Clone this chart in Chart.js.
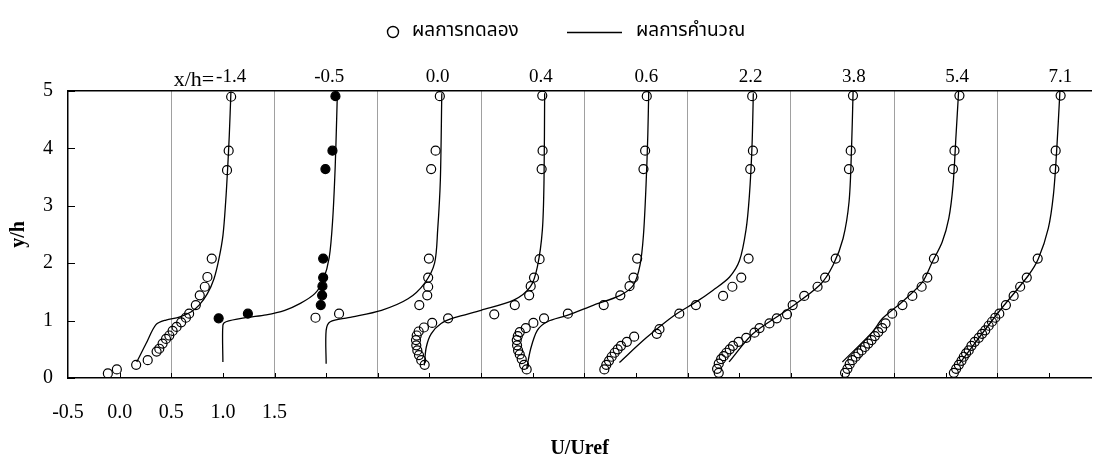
<!DOCTYPE html>
<html>
<head>
<meta charset="utf-8">
<script src="https://cdn.jsdelivr.net/npm/chart.js@4.4.0/dist/chart.umd.min.js"></script>
<style>
  html, body { margin: 0; padding: 0; background: #fff; }
  #wrap { width: 1097px; height: 468px; }
</style>
</head>
<body>
<div id="wrap"><canvas id="profiles"></canvas></div>
<script>
// Velocity profiles U/Uref vs y/h at each station x/h.
// Each profile is drawn shifted right by one unit per station.
const stations = ['-1.4', '-0.5', '0.0', '0.4', '0.6', '2.2', '3.8', '5.4', '7.1'];
const stationShift = [0, 1, 2, 3, 4, 5, 6, 7, 8];
const stationLabelAt = [1.08, 2.03, 3.08, 4.08, 5.10, 6.11, 7.11, 8.11, 9.11];
const xTickLabels = ['-0.5', '0.0', '0.5', '1.0', '1.5'];
const legendNames = ['ผลการทดลอง', 'ผลการคำนวณ'];

// experiment (circles)
const exp_m14_u = [1.08, 1.056, 1.04, 0.892, 0.85, 0.825, 0.776, 0.738, 0.673, 0.642, 0.596, 0.551, 0.513, 0.481, 0.449, 0.416, 0.384, 0.358, 0.272, 0.16, -0.027, -0.114];
const exp_m14_y = [4.90, 3.96, 3.62, 2.08, 1.76, 1.59, 1.44, 1.27, 1.12, 1.05, 0.97, 0.89, 0.82, 0.74, 0.68, 0.60, 0.51, 0.46, 0.31, 0.23, 0.15, 0.08];
const exp_m05_u = [-0.041, 0.242, 0.948, 0.961, 0.964, 0.971, 0.971, 0.993, 1.061, 1.09];
const exp_m05_y = [1.04, 1.12, 1.27, 1.44, 1.60, 1.75, 2.08, 3.64, 3.96, 4.91];
const exp_00_u = [-0.103, 0.125, 0.902, 0.979, 0.988, 0.988, 0.995, 1.017, 1.06, 1.101];
const exp_00_y = [1.05, 1.12, 1.27, 1.44, 1.59, 1.75, 2.08, 3.64, 3.96, 4.91];
const exp_04_u = [-0.046, -0.079, -0.101, -0.117, -0.127, -0.130, -0.123, -0.104, -0.053, 0.027, 0.181, 0.628, 0.827, 0.966, 0.981, 1.013, 1.067, 1.087, 1.096, 1.093];
const exp_04_y = [0.23, 0.31, 0.40, 0.48, 0.57, 0.66, 0.74, 0.81, 0.88, 0.96, 1.04, 1.11, 1.27, 1.44, 1.60, 1.75, 2.07, 3.64, 3.96, 4.92];
const exp_06_u = [-0.058, -0.083, -0.106, -0.125, -0.141, -0.151, -0.154, -0.144, -0.125, -0.067, 0.007, 0.11, 0.341, 0.688, 0.849, 0.938, 0.977, 1.012, 1.073, 1.089, 1.105];
const exp_06_y = [0.15, 0.23, 0.33, 0.41, 0.48, 0.57, 0.66, 0.73, 0.80, 0.87, 0.96, 1.04, 1.12, 1.27, 1.44, 1.60, 1.75, 2.08, 3.64, 3.96, 4.91];
const exp_22_u = [-0.306, -0.287, -0.261, -0.235, -0.206, -0.177, -0.145, -0.088, -0.017, 0.202, 0.228, 0.42, 0.581, 0.844, 0.934, 1.02, 1.091, 1.107, 1.133, 1.126];
const exp_22_y = [0.15, 0.23, 0.30, 0.37, 0.44, 0.50, 0.56, 0.63, 0.72, 0.77, 0.85, 1.12, 1.27, 1.43, 1.59, 1.75, 2.08, 3.64, 3.96, 4.91];
const exp_38_u = [-0.198, -0.214, -0.198, -0.175, -0.150, -0.124, -0.092, -0.060, -0.006, 0.068, 0.148, 0.197, 0.293, 0.364, 0.463, 0.518, 0.63, 0.759, 0.832, 0.935, 1.063, 1.08, 1.102];
const exp_38_y = [0.09, 0.16, 0.25, 0.33, 0.38, 0.44, 0.50, 0.56, 0.63, 0.70, 0.79, 0.87, 0.95, 1.04, 1.11, 1.27, 1.43, 1.59, 1.75, 2.08, 3.64, 3.96, 4.92];
const exp_54_u = [0.025, 0.048, 0.07, 0.096, 0.128, 0.154, 0.186, 0.218, 0.25, 0.282, 0.314, 0.347, 0.385, 0.417, 0.482, 0.581, 0.677, 0.767, 0.822, 0.886, 1.07, 1.085, 1.133];
const exp_54_y = [0.09, 0.16, 0.24, 0.31, 0.37, 0.43, 0.48, 0.54, 0.60, 0.66, 0.73, 0.80, 0.87, 0.95, 1.12, 1.27, 1.43, 1.59, 1.75, 2.08, 3.64, 3.96, 4.92];
const exp_71_u = [0.079, 0.101, 0.127, 0.153, 0.175, 0.197, 0.223, 0.249, 0.281, 0.32, 0.352, 0.383, 0.416, 0.448, 0.48, 0.519, 0.583, 0.658, 0.721, 0.785, 0.891, 1.052, 1.065, 1.113];
const exp_71_y = [0.09, 0.16, 0.23, 0.30, 0.37, 0.43, 0.48, 0.56, 0.63, 0.70, 0.77, 0.83, 0.91, 0.98, 1.05, 1.12, 1.27, 1.43, 1.59, 1.75, 2.08, 3.64, 3.96, 4.92];

// computation (lines)
const cfd_m14_u = [0.166, 0.256, 0.352, 0.449, 0.577, 0.69, 0.77, 0.85, 0.914, 0.962, 1.001, 1.027, 1.046, 1.062, 1.078];
const cfd_m14_y = [0.28, 0.60, 0.93, 1.01, 1.06, 1.15, 1.27, 1.47, 1.73, 2.08, 2.49, 3.07, 3.65, 4.23, 4.99];
const cfd_m05_u = [0, 0, 0.03, 0.22, 0.42, 0.6, 0.75, 0.89, 0.97, 1.03, 1.064, 1.087, 1.102, 1.109];
const cfd_m05_y = [0.28, 0.92, 0.98, 1.05, 1.10, 1.18, 1.30, 1.47, 1.70, 2.1, 2.78, 3.65, 4.52, 4.99];
const cfd_00_u = [0, 0, 0.04, 0.215, 0.536, 0.793, 0.953, 1.05, 1.08, 1.106, 1.12];
const cfd_00_y = [0.25, 0.83, 0.98, 1.05, 1.18, 1.38, 1.65, 2.0, 2.58, 3.45, 4.96];
const cfd_04_u = [-0.05, -0.03, 0.017, 0.113, 0.243, 0.50, 0.821, 0.978, 1.046, 1.094, 1.11, 1.116];
const cfd_04_y = [0.22, 0.54, 0.77, 0.95, 1.05, 1.18, 1.36, 1.59, 1.94, 2.58, 3.45, 4.96];
const cfd_06_u = [-0.058, -0.019, 0.045, 0.142, 0.334, 0.591, 0.848, 0.976, 1.04, 1.073, 1.098, 1.115, 1.124];
const cfd_06_y = [0.16, 0.51, 0.83, 0.98, 1.09, 1.27, 1.44, 1.62, 1.97, 2.49, 3.36, 4.23, 4.99];
const cfd_22_u = [-0.16, 0.10, 0.37, 0.587, 0.747, 0.907, 1.004, 1.066, 1.098, 1.124, 1.137];
const cfd_22_y = [0.27, 0.70, 1.09, 1.33, 1.53, 1.76, 2.05, 2.58, 3.16, 4.03, 4.96];
const cfd_38_u = [-0.098, 0.133, 0.46, 0.781, 0.91, 1.006, 1.064, 1.087, 1.103];
const cfd_38_y = [0.28, 0.77, 1.18, 1.62, 1.97, 2.43, 3.07, 3.94, 4.99];
const cfd_54_u = [0, 0.289, 0.389, 0.581, 0.774, 0.87, 0.966, 1.03, 1.071, 1.10, 1.125];
const cfd_54_y = [0.28, 0.80, 1.04, 1.33, 1.67, 2.02, 2.37, 2.78, 3.36, 4.23, 4.99];
const cfd_71_u = [0.133, 0.513, 0.802, 0.898, 0.994, 1.043, 1.074, 1.106];
const cfd_71_y = [0.25, 1.15, 1.79, 2.08, 2.61, 3.19, 3.94, 4.99];

const expU = [exp_m14_u, exp_m05_u, exp_00_u, exp_04_u, exp_06_u, exp_22_u, exp_38_u, exp_54_u, exp_71_u];
const expY = [exp_m14_y, exp_m05_y, exp_00_y, exp_04_y, exp_06_y, exp_22_y, exp_38_y, exp_54_y, exp_71_y];
const cfdU = [cfd_m14_u, cfd_m05_u, cfd_00_u, cfd_04_u, cfd_06_u, cfd_22_u, cfd_38_u, cfd_54_u, cfd_71_u];
const cfdY = [cfd_m14_y, cfd_m05_y, cfd_00_y, cfd_04_y, cfd_06_y, cfd_22_y, cfd_38_y, cfd_54_y, cfd_71_y];

const serif = '"Liberation Serif", "Times New Roman", serif';
const thai = '"Noto Sans Thai", "Loma", "Garuda", "Norasi", "Tlwg Typist", sans-serif';

const toPoints = (us, ys, shift) => us.map((u, k) => ({ x: u + shift, y: ys[k] }));

const datasets = [];
stations.forEach((st, i) => {
    datasets.push({
        label: 'calc ' + st,
        data: toPoints(cfdU[i], cfdY[i], stationShift[i]),
        showLine: true,
        borderColor: '#000',
        borderWidth: 1.3,
        pointRadius: 0,
        tension: 0.3
    });
    datasets.push({
        label: 'exp ' + st,
        data: toPoints(expU[i], expY[i], stationShift[i]),
        showLine: false,
        pointRadius: 4.5,
        pointBorderWidth: 1.2,
        pointBorderColor: '#000',
        pointBackgroundColor: st === '-0.5' ? '#000' : 'rgba(0,0,0,0)'
    });
});

const xGridVals = [];
for (let v = -0.5; v <= 9.0; v += 0.5) xGridVals.push(v);

// short tick marks pointing into the plot
const innerTicks = {
    id: 'innerTicks',
    afterDatasetsDraw(chart) {
        const { ctx, chartArea: a, scales } = chart;
        ctx.save();
        ctx.strokeStyle = '#000';
        ctx.lineWidth = 1;
        scales.x.ticks.forEach(t => {
            const px = Math.round(scales.x.getPixelForValue(t.value)) + 0.5;
            if (px <= a.left + 2) return;
            ctx.beginPath(); ctx.moveTo(px, a.bottom); ctx.lineTo(px, a.bottom - 5); ctx.stroke();
        });
        scales.y.ticks.forEach(t => {
            const py = Math.round(scales.y.getPixelForValue(t.value)) + 0.5;
            ctx.beginPath(); ctx.moveTo(a.left, py); ctx.lineTo(a.left + 7, py); ctx.stroke();
        });
        ctx.restore();
    }
};

// legend row and the "x/h=" prefix
const legendRow = {
    id: 'legendRow',
    afterDraw(chart) {
        const ctx = chart.ctx;
        ctx.save();
        ctx.strokeStyle = '#000';
        ctx.lineWidth = 1.4;
        ctx.beginPath(); ctx.arc(393, 32, 5.5, 0, Math.PI * 2); ctx.stroke();
        ctx.beginPath(); ctx.moveTo(567, 32.5); ctx.lineTo(622, 32.5); ctx.stroke();
        ctx.fillStyle = '#000';
        ctx.textBaseline = 'middle';
        ctx.font = '19px ' + thai;
        ctx.fillText(legendNames[0], 412, 32, 109);
        ctx.fillText(legendNames[1], 636, 32, 117);
        const x2 = chart.scales.x2;
        ctx.font = '22px ' + serif;
        ctx.textAlign = 'right';
        ctx.textBaseline = 'alphabetic';
        ctx.fillText('x/h=', x2.getPixelForValue(stationLabelAt[0]) - 17, 86);
        ctx.restore();
    }
};

new Chart(document.getElementById('profiles'), {
    type: 'scatter',
    data: { datasets },
    plugins: [innerTicks, legendRow],
    options: {
        responsive: true,
        maintainAspectRatio: false,
        animation: false,
        devicePixelRatio: 1,
        layout: { padding: 0 },
        plugins: { legend: { display: false }, tooltip: { enabled: false } },
        scales: {
            x: {
                type: 'linear',
                position: 'bottom',
                min: -0.5,
                max: 9.41,
                afterBuildTicks: s => { s.ticks = xGridVals.map(v => ({ value: v })); },
                afterFit: s => { s.height = 90; },
                ticks: {
                    autoSkip: false,
                    maxRotation: 0,
                    padding: 23,
                    color: '#000',
                    font: { family: serif, size: 20 },
                    callback: (v, i) => xTickLabels[i] || ''
                },
                grid: {
                    drawTicks: false,
                    lineWidth: 1,
                    color: c => (c.tick && c.tick.value > 0 && ((c.tick.value + 0.5) % 1) === 0) ? '#a0a0a0' : 'rgba(0,0,0,0)'
                },
                border: { display: true, color: '#000', width: 1.5 },
                title: {
                    display: true,
                    text: 'U/Uref',
                    color: '#000',
                    font: { family: serif, size: 20, weight: 'bold' },
                    padding: { top: 0, bottom: 7 }
                }
            },
            x2: {
                type: 'linear',
                position: 'top',
                min: -0.5,
                max: 9.41,
                afterBuildTicks: s => { s.ticks = stationLabelAt.map(v => ({ value: v })); },
                afterFit: s => { s.height = 91; },
                ticks: {
                    autoSkip: false,
                    maxRotation: 0,
                    padding: 3,
                    color: '#000',
                    font: { family: serif, size: 19 },
                    callback: (v, i) => stations[i]
                },
                grid: { display: false, drawTicks: false },
                border: { display: true, color: '#000', width: 1.5 }
            },
            y: {
                type: 'linear',
                min: 0,
                max: 5,
                afterFit: s => { s.width = 68; },
                ticks: {
                    stepSize: 1,
                    padding: 15,
                    color: '#000',
                    font: { family: serif, size: 20 }
                },
                grid: { display: false, drawTicks: false },
                border: { display: true, color: '#000', width: 1.5 },
                title: {
                    display: true,
                    text: 'y/h',
                    color: '#000',
                    font: { family: serif, size: 20, weight: 'bold' },
                    padding: { top: 7, bottom: 0 }
                }
            }
        }
    }
});
</script>
</body>
</html>
